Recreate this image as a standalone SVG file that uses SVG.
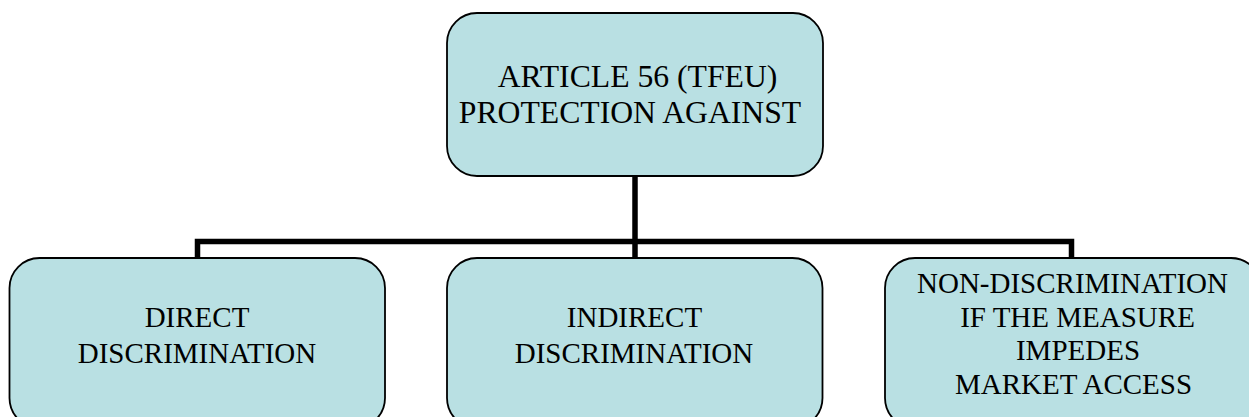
<svg xmlns="http://www.w3.org/2000/svg" width="1249" height="417" viewBox="0 0 1249 417">
  <style>
    .box { fill: #B9E0E3; stroke: #000; stroke-width: 1.8; }
    .lbl { font-family: "Liberation Serif", "Times New Roman", serif; font-size: 29px; fill: #000; text-anchor: middle; }
    .big { font-size: 31.7px; }
    .wire { fill: none; stroke: #000; stroke-width: 5.5; stroke-linejoin: miter; stroke-linecap: butt; }
  </style>
  <rect width="1249" height="417" fill="#fff"/>

  <!-- tree connectors -->
  <g id="connectors">
    <line class="wire" x1="635" y1="176" x2="635" y2="258"/>
    <polyline class="wire" points="197.5,258 197.5,241.5 1071.5,241.5 1071.5,258"/>
  </g>

  <g id="root">
    <rect class="box" x="447" y="13" width="376" height="163" rx="30" ry="30"/>
    <text class="lbl big" x="637.5" y="86.5">ARTICLE 56 (TFEU)</text>
    <text class="lbl big" x="630" y="123">PROTECTION AGAINST</text>
  </g>

  <g id="direct">
    <rect class="box" x="9.5" y="258" width="375.5" height="170" rx="30" ry="30"/>
    <text class="lbl" x="197" y="327">DIRECT</text>
    <text class="lbl" x="197" y="362.5">DISCRIMINATION</text>
  </g>

  <g id="indirect">
    <rect class="box" x="447" y="258" width="375.5" height="170" rx="30" ry="30"/>
    <text class="lbl" x="634.5" y="327">INDIRECT</text>
    <text class="lbl" x="634" y="362.5">DISCRIMINATION</text>
  </g>

  <g id="market-access">
    <rect class="box" x="885" y="258" width="376" height="170" rx="30" ry="30"/>
    <text class="lbl" x="1072.5" y="293.3">NON-DISCRIMINATION</text>
    <text class="lbl" x="1077.5" y="327">IF THE MEASURE</text>
    <text class="lbl" x="1078" y="360">IMPEDES</text>
    <text class="lbl" x="1073.5" y="394">MARKET ACCESS</text>
  </g>
</svg>
